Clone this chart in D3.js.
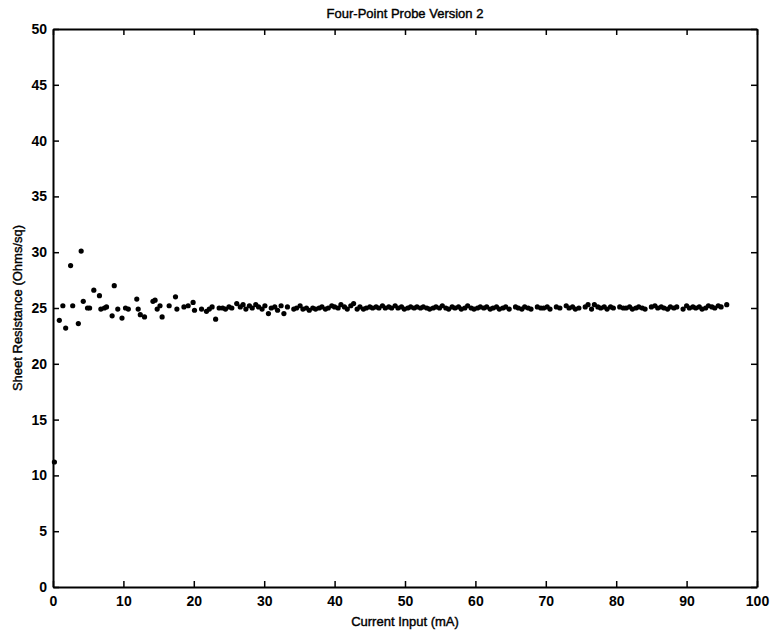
<!DOCTYPE html>
<html>
<head>
<meta charset="utf-8">
<script src="https://cdn.jsdelivr.net/npm/d3@7"></script>
<style>
  body { margin: 0; background: #fff; }
  text { font-family: "Liberation Sans", Arial, sans-serif; fill: #000; }
</style>
</head>
<body>
<div id="chart"></div>
<script>
// Chart size and plot box
const width = 770;
const height = 632;
const margin = { top: 29, right: 13, bottom: 45, left: 53 };

// Axis domains and tick values
const xTicks = [0, 10, 20, 30, 40, 50, 60, 70, 80, 90, 100];
const yTicks = [0, 5, 10, 15, 20, 25, 30, 35, 40, 45, 50];

// Low-current readings: [current (mA), sheet resistance (Ohms/sq)]
const scatterPoints = [
    [0.2, 11.2], [0.9, 23.9], [1.4, 25.2], [1.8, 23.2], [2.5, 28.8],
    [2.8, 25.2], [3.6, 23.6], [4.0, 30.1], [4.3, 25.6], [4.9, 25.0],
    [5.2, 25.0], [5.8, 26.6], [6.6, 26.1], [6.8, 24.9], [7.3, 25.0],
    [7.6, 25.1], [8.4, 24.3], [8.7, 27.0], [9.2, 24.9], [9.8, 24.1],
    [10.3, 25.0], [10.7, 24.9], [11.9, 25.8], [12.1, 24.9], [12.4, 24.4],
    [13.0, 24.2], [14.2, 25.6], [14.5, 25.7], [14.8, 24.9], [15.2, 25.2],
    [15.5, 24.2], [16.5, 25.2], [17.4, 26.0], [17.6, 24.9], [18.6, 25.1],
    [19.2, 25.2], [19.9, 25.5], [20.1, 24.8], [21.1, 24.9], [21.8, 24.7],
    [22.2, 24.9], [22.6, 25.1], [23.1, 24.0], [23.6, 25.0], [24.1, 25.0],
    [24.5, 24.9], [25.0, 25.1], [25.4, 25.0], [26.1, 25.4]
];

// Higher-current readings, settled near 25 Ohms/sq
const steadyPoints = [
    [26.6, 25.1], [27.0, 25.3], [27.4, 24.9], [27.9, 25.2], [28.3, 25.0],
    [28.8, 25.3], [29.2, 25.1], [29.7, 24.9], [30.1, 25.2], [30.6, 24.5],
    [31.0, 25.0], [31.5, 25.1], [31.9, 24.8], [32.4, 25.2], [32.8, 24.5],
    [33.3, 25.1], [34.2, 24.9], [34.6, 25.0], [35.1, 25.2], [35.5, 24.9],
    [36.0, 25.0], [36.4, 24.8], [36.9, 25.0], [37.3, 24.9], [37.8, 25.0],
    [38.2, 25.1], [38.7, 24.9], [39.1, 25.0], [39.6, 25.2], [40.0, 25.1],
    [40.5, 25.0], [40.9, 25.3], [41.4, 25.1], [41.8, 24.9], [42.3, 25.2],
    [42.7, 25.4], [43.2, 24.9], [43.6, 25.1], [44.1, 24.9], [44.5, 25.0],
    [45.0, 25.1], [45.4, 25.0], [45.9, 25.1], [46.3, 25.0], [46.8, 25.2],
    [47.2, 25.0], [47.7, 25.1], [48.1, 25.0], [48.6, 25.2], [49.0, 25.0],
    [49.5, 25.1], [49.9, 24.9], [50.4, 25.0], [50.8, 25.1], [51.3, 25.0],
    [51.7, 25.1], [52.2, 25.0], [52.6, 25.1], [53.1, 25.0], [53.5, 24.9],
    [54.0, 25.0], [54.4, 25.1], [54.9, 25.0], [55.3, 25.2], [55.8, 25.0],
    [56.2, 24.9], [56.7, 25.1], [57.1, 25.0], [57.6, 25.1], [58.0, 24.9],
    [58.5, 25.0], [58.9, 25.2], [59.4, 25.0], [59.8, 24.9], [60.3, 25.0],
    [60.7, 25.1], [61.2, 25.0], [61.6, 25.1], [62.1, 24.9], [62.5, 25.0],
    [63.0, 25.1], [63.4, 24.9], [63.9, 25.0], [64.3, 25.1], [64.8, 24.9],
    [65.7, 25.1], [66.1, 25.0], [66.6, 24.9], [67.0, 25.1], [67.5, 25.0],
    [67.9, 24.9], [68.8, 25.1], [69.3, 25.0], [69.7, 25.0], [70.2, 25.1],
    [70.6, 24.9], [71.5, 25.1], [72.0, 25.0], [72.9, 25.2], [73.3, 25.0],
    [73.8, 25.1], [74.2, 24.9], [74.7, 25.0], [75.6, 25.1], [76.0, 25.3],
    [76.5, 24.9], [76.9, 25.3], [77.4, 25.1], [77.8, 25.0], [78.3, 25.1],
    [78.7, 24.9], [79.2, 25.1], [79.6, 25.0], [80.5, 25.1], [81.0, 25.0],
    [81.4, 25.0], [81.9, 25.1], [82.3, 24.9], [82.8, 25.0], [83.2, 25.1],
    [83.7, 25.0], [84.1, 24.9], [85.0, 25.1], [85.5, 25.2], [85.9, 25.0],
    [86.4, 25.1], [86.8, 25.0], [87.3, 24.9], [87.7, 25.1], [88.2, 25.0],
    [88.6, 25.1], [89.5, 24.9], [90.0, 25.2], [90.4, 25.0], [90.9, 25.1],
    [91.3, 25.0], [91.8, 25.1], [92.2, 24.9], [92.7, 25.0], [93.1, 25.2],
    [93.6, 25.1], [94.0, 25.0], [94.5, 25.2], [94.9, 25.1], [95.7, 25.3]
];

const allPoints = scatterPoints.concat(steadyPoints);

const svg = d3.select("#chart")
    .append("svg")
    .attr("width", width)
    .attr("height", height);

const plotW = width - margin.left - margin.right;
const plotH = height - margin.top - margin.bottom;

const x = d3.scaleLinear().domain([0, 100]).range([margin.left, margin.left + plotW]);
const y = d3.scaleLinear().domain([0, 50]).range([margin.top + plotH, margin.top]);

const tickLen = 6;

// Bottom axis with labels, ticks pointing inward
const gBottom = svg.append("g")
    .attr("transform", `translate(0,${margin.top + plotH})`)
    .call(d3.axisBottom(x).tickValues(xTicks).tickSizeInner(-tickLen).tickSizeOuter(0).tickPadding(9));

// Top axis (ticks only)
const gTop = svg.append("g")
    .attr("transform", `translate(0,${margin.top})`)
    .call(d3.axisTop(x).tickValues(xTicks).tickSizeInner(-tickLen).tickSizeOuter(0).tickFormat(""));

// Left axis with labels
const gLeft = svg.append("g")
    .attr("transform", `translate(${margin.left},0)`)
    .call(d3.axisLeft(y).tickValues(yTicks).tickSizeInner(-tickLen).tickSizeOuter(0).tickPadding(6));

// Right axis (ticks only)
const gRight = svg.append("g")
    .attr("transform", `translate(${margin.left + plotW},0)`)
    .call(d3.axisRight(y).tickValues(yTicks).tickSizeInner(-tickLen).tickSizeOuter(0).tickFormat(""));

[gBottom, gTop, gLeft, gRight].forEach(g => {
    g.select(".domain").attr("stroke", "#000").attr("stroke-width", 2);
    g.selectAll(".tick line").attr("stroke", "#000").attr("stroke-width", 1.5);
    g.selectAll(".tick text")
        .style("font-family", "'Liberation Sans', Arial, sans-serif")
        .style("font-size", "14px")
        .style("font-weight", "bold")
        .attr("fill", "#000");
});

// Data points
svg.append("g")
    .selectAll("circle")
    .data(allPoints)
    .enter()
    .append("circle")
    .attr("cx", d => x(d[0]))
    .attr("cy", d => y(d[1]))
    .attr("r", 2.6)
    .attr("fill", "#000");

// Title and axis labels
svg.append("text")
    .attr("x", margin.left + plotW / 2)
    .attr("y", 18)
    .attr("text-anchor", "middle")
    .style("font-size", "13px")
    .style("stroke", "#000")
    .style("stroke-width", 0.4)
    .text("Four-Point Probe Version 2");

svg.append("text")
    .attr("x", margin.left + plotW / 2)
    .attr("y", 626)
    .attr("text-anchor", "middle")
    .style("font-size", "13px")
    .style("stroke", "#000")
    .style("stroke-width", 0.4)
    .text("Current Input (mA)");

svg.append("text")
    .attr("transform", `translate(22,${margin.top + plotH / 2}) rotate(-90)`)
    .attr("text-anchor", "middle")
    .style("font-size", "13px")
    .style("stroke", "#000")
    .style("stroke-width", 0.4)
    .text("Sheet Resistance (Ohms/sq)");
</script>
</body>
</html>
